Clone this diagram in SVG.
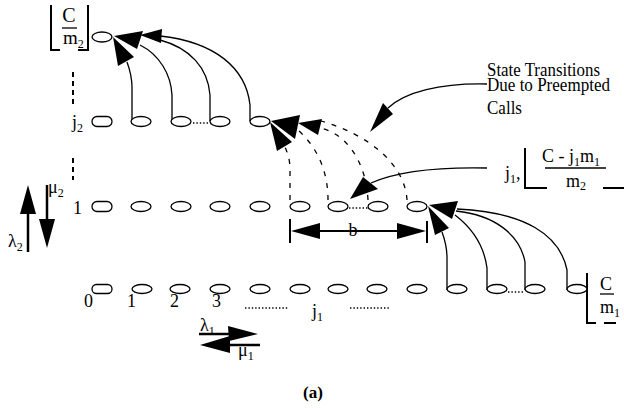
<svg xmlns="http://www.w3.org/2000/svg" width="624" height="408" viewBox="0 0 624 408">
<style>
.node{fill:#fff;stroke:#000;stroke-width:1.3}
.conn{fill:none;stroke:#000;stroke-width:1.3}
.dash{stroke-dasharray:5 7}
.dot{fill:none;stroke:#000;stroke-width:1.3;stroke-dasharray:1.4 2}
.thick{fill:none;stroke:#000;stroke-width:2.5}
.br{fill:none;stroke:#000;stroke-width:2}
.head{fill:#000;stroke:none}
text{font-family:"Liberation Serif","Times New Roman",serif;font-size:18px;fill:#000}
.sub{font-size:12px}
</style>

<!-- connectors -->
<g id="connectors">
  <!-- j2 row to top node -->
  <path class="conn" d="M132,121 L132,88 C132,78 130,70 127,62"/>
  <path class="conn" d="M172,121 L172,95 C171,75 160,55 140,45"/>
  <path class="conn" d="M210,121 L210,95 C208,68 190,48 160,40"/>
  <path class="conn" d="M250,121 L250,105 C246,68 215,42 160,36"/>
  <polygon class="head" points="113,37 118,66 134,57"/>
  <polygon class="head" points="114,36 137,49 143,31"/>
  <polygon class="head" points="140,35 162,29 161,43"/>
  <!-- row 1 to j2 node (dashed) -->
  <path class="conn dash" d="M290,200 L290,170 C290,160 288,154 285,147"/>
  <path class="conn dash" d="M328,200 C328,175 320,150 298,130"/>
  <path class="conn dash" d="M368,200 C366,160 345,133 320,128"/>
  <path class="conn dash" d="M407,200 C405,165 370,135 321,121"/>
  <polygon class="head" points="270,122 277,151 292,142"/>
  <polygon class="head" points="271,121 295,139 300,115"/>
  <polygon class="head" points="298,123 322,119 318,135"/>
  <!-- row 0 to row 1 node -->
  <path class="conn" d="M447,290 L447,258 C447,248 445,240 442,232"/>
  <path class="conn" d="M487,290 L487,268 C484,245 472,228 455,215"/>
  <path class="conn" d="M525,290 L525,262 C520,235 495,215 456,211"/>
  <path class="conn" d="M567,290 L567,270 C560,235 525,212 457,209"/>
  <polygon class="head" points="428,206 435,235 449,228"/>
  <polygon class="head" points="429,205 452,219 458,201"/>
  <!-- annotation arrows -->
  <path class="conn" d="M487,84 C440,83 405,92 388,108"/>
  <polygon class="head" points="370,132 383,103 393,114"/>
  <path class="conn" d="M487,168 C440,167 400,170 371,183"/>
  <polygon class="head" points="350,199 363,177 378,189"/>
  <!-- vertical dotted -->
  <line class="conn" x1="73" y1="72" x2="73" y2="108" style="stroke-width:2;stroke-dasharray:5 4"/>
  <line class="conn" x1="73" y1="158" x2="73" y2="180" style="stroke-width:2;stroke-dasharray:5 4"/>
  <!-- row dots -->
  <line class="dot" x1="193" y1="123" x2="210" y2="123"/>
  <line class="dot" x1="349" y1="208" x2="368" y2="208"/>
  <line class="dot" x1="508" y1="292" x2="525" y2="292"/>
  <line class="dot" x1="245" y1="308" x2="288" y2="308"/>
  <line class="dot" x1="350" y1="308" x2="390" y2="308"/>
  <!-- lambda2 / mu2 -->
  <line class="thick" x1="28" y1="252" x2="28" y2="210"/>
  <polygon class="head" points="28,185 20,214 36,214"/>
  <line class="thick" x1="47" y1="185" x2="47" y2="222"/>
  <polygon class="head" points="47,248 39,219 55,219"/>
  <!-- b dimension -->
  <line class="br" x1="290" y1="219" x2="290" y2="243"/>
  <line class="br" x1="427" y1="221" x2="427" y2="243"/>
  <line class="br" x1="318" y1="231" x2="399" y2="231"/>
  <polygon class="head" points="291,231 320,223 320,239"/>
  <polygon class="head" points="426,231 397,223 397,239"/>
  <!-- lambda1 / mu1 -->
  <line class="thick" x1="199" y1="334" x2="232" y2="334"/>
  <polygon class="head" points="258,334 228,326 229,341"/>
  <line class="thick" x1="260" y1="345" x2="226" y2="345"/>
  <polygon class="head" points="200,345 230,336 230,353"/>
  <!-- brackets -->
  <path class="br" d="M51,5 L51,50 L60,50 M88,5 L88,50 L78,50"/>
  <line class="conn" x1="62" y1="28" x2="77" y2="28"/>
  <path class="br" d="M525,148 L525,188 L547,188 M603,188 L624,188"/>
  <line class="conn" x1="545" y1="168" x2="606" y2="168"/>
  <path class="br" d="M587,273 L587,323 L596,323 M604,323 L616,323"/>
  <line class="conn" x1="600" y1="294" x2="614" y2="294"/>
</g>

<!-- nodes -->
<g id="n-top"><ellipse class="node" cx="102" cy="37" rx="10" ry="5"/></g>

<g id="n-j2-0"><rect class="node" x="92" y="116.5" width="20" height="10" rx="5"/></g>
<g id="n-j2-1"><ellipse class="node" cx="141" cy="121.5" rx="10" ry="5"/></g>
<g id="n-j2-2"><ellipse class="node" cx="181" cy="121.5" rx="10" ry="5"/></g>
<g id="n-j2-3"><ellipse class="node" cx="220" cy="121.5" rx="10" ry="5"/></g>
<g id="n-j2-4"><ellipse class="node" cx="260" cy="121.5" rx="10" ry="5"/></g>

<g id="n-1-0"><rect class="node" x="92" y="201.5" width="20" height="10" rx="5"/></g>
<g id="n-1-1"><ellipse class="node" cx="141" cy="206.5" rx="10" ry="5"/></g>
<g id="n-1-2"><ellipse class="node" cx="181" cy="206.5" rx="10" ry="5"/></g>
<g id="n-1-3"><ellipse class="node" cx="220" cy="206.5" rx="10" ry="5"/></g>
<g id="n-1-4"><ellipse class="node" cx="260" cy="206.5" rx="10" ry="5"/></g>
<g id="n-1-5"><ellipse class="node" cx="300" cy="206.5" rx="10" ry="5"/></g>
<g id="n-1-6"><ellipse class="node" cx="338" cy="206.5" rx="10" ry="5"/></g>
<g id="n-1-7"><ellipse class="node" cx="378" cy="206.5" rx="10" ry="5"/></g>
<g id="n-1-8"><ellipse class="node" cx="417" cy="206.5" rx="10" ry="5"/></g>

<g id="n-0-0"><rect class="node" x="92" y="284.5" width="20" height="9" rx="4.5"/></g>
<g id="n-0-1"><ellipse class="node" cx="142" cy="289" rx="10" ry="4.5"/></g>
<g id="n-0-2"><ellipse class="node" cx="180" cy="289" rx="10" ry="4.5"/></g>
<g id="n-0-3"><ellipse class="node" cx="220" cy="289" rx="10" ry="4.5"/></g>
<g id="n-0-4"><ellipse class="node" cx="260" cy="289" rx="10" ry="4.5"/></g>
<g id="n-0-5"><ellipse class="node" cx="300" cy="289" rx="10" ry="4.5"/></g>
<g id="n-0-6"><ellipse class="node" cx="338" cy="289" rx="10" ry="4.5"/></g>
<g id="n-0-7"><ellipse class="node" cx="377" cy="289" rx="10" ry="4.5"/></g>
<g id="n-0-8"><ellipse class="node" cx="417" cy="289" rx="10" ry="4.5"/></g>
<g id="n-0-9"><ellipse class="node" cx="457" cy="289" rx="10" ry="4.5"/></g>
<g id="n-0-10"><ellipse class="node" cx="497" cy="289" rx="10" ry="4.5"/></g>
<g id="n-0-11"><ellipse class="node" cx="535" cy="289" rx="10" ry="4.5"/></g>
<g id="n-0-12"><ellipse class="node" cx="577" cy="289" rx="10" ry="4.5"/></g>

<!-- labels -->
<g id="labels">
  <text x="69" y="22" text-anchor="middle" style="font-size:20px">C</text>
  <text x="63" y="44" style="font-size:19px">m<tspan class="sub" dy="4">2</tspan></text>
  <text x="72" y="128">j<tspan class="sub" dy="4">2</tspan></text>
  <text x="73" y="214">1</text>
  <text x="48" y="193">μ<tspan class="sub" dy="4">2</tspan></text>
  <text x="8" y="247">λ<tspan class="sub" dy="4">2</tspan></text>
  <text x="353" y="236" text-anchor="middle">b</text>
  <text x="84" y="307">0</text>
  <text x="127" y="307">1</text>
  <text x="170" y="307">2</text>
  <text x="212" y="307">3</text>
  <text x="312" y="317">j<tspan class="sub" dy="4">1</tspan></text>
  <text x="200" y="331">λ<tspan class="sub" dy="4">1</tspan></text>
  <text x="238" y="356">μ<tspan class="sub" dy="4">1</tspan></text>
  <text x="303" y="398" style="font-weight:bold;font-size:17px">(a)</text>
  <text x="487" y="76" textLength="113" lengthAdjust="spacingAndGlyphs">State Transitions</text>
  <text x="487" y="91" textLength="123" lengthAdjust="spacingAndGlyphs">Due to Preempted</text>
  <text x="487" y="114" textLength="35" lengthAdjust="spacingAndGlyphs">Calls</text>
  <text x="505" y="179">j<tspan class="sub" dy="4">1</tspan><tspan dy="-4">,</tspan></text>
  <text x="542" y="162">C - j<tspan class="sub" dy="4">1</tspan><tspan dy="-4">m</tspan><tspan class="sub" dy="4">1</tspan></text>
  <text x="566" y="187">m<tspan class="sub" dy="3">2</tspan></text>
  <text x="600" y="290">C</text>
  <text x="600" y="313">m<tspan class="sub" dy="4">1</tspan></text>
</g>
</svg>
